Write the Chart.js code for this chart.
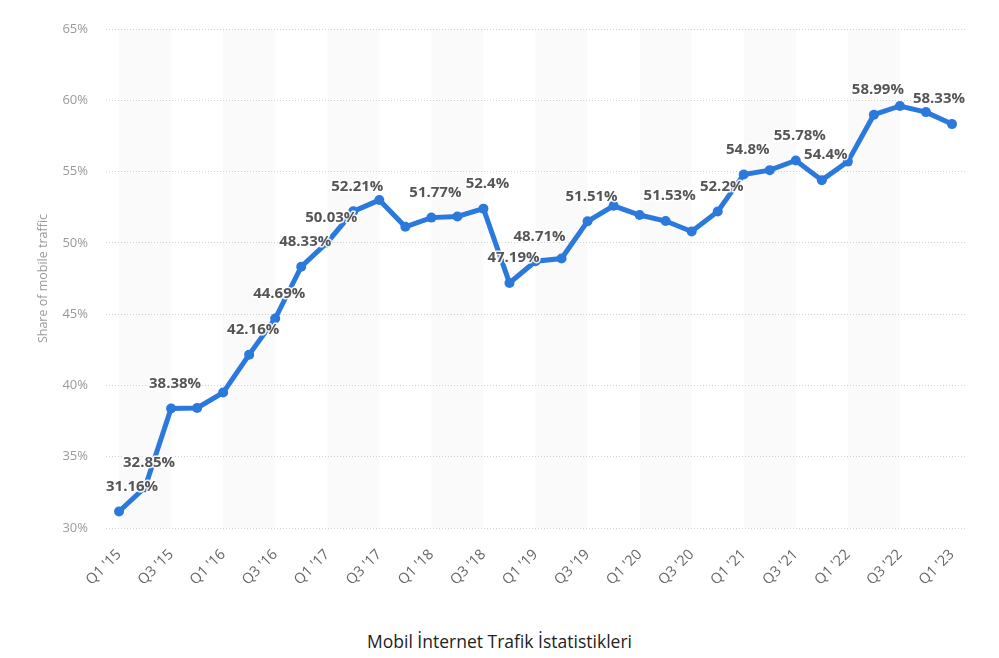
<!DOCTYPE html>
<html lang="tr">
  <head>
    <meta charset="UTF-8" />
    <title>Mobil İnternet Trafik İstatistikleri</title>
    <script src="https://cdn.jsdelivr.net/npm/chart.js"></script>
    <style>
      html, body { margin: 0; padding: 0; background: #fff; }
      #wrap { position: relative; width: 999px; height: 658px; }
      #caption {
        position: absolute; left: 0; top: 628px; width: 999px;
        text-align: center; font-family: "Open Sans", sans-serif;
        font-size: 17.5px; line-height: 26px; color: #222;
      }
    </style>
  </head>
  <body>
    <div id="wrap">
      <canvas id="trafficChart" width="999" height="620"></canvas>
      <div id="caption">Mobil İnternet Trafik İstatistikleri</div>
    </div>

    <script>
      const quarters = [
        "Q1 '15", "Q2 '15", "Q3 '15", "Q4 '15",
        "Q1 '16", "Q2 '16", "Q3 '16", "Q4 '16",
        "Q1 '17", "Q2 '17", "Q3 '17", "Q4 '17",
        "Q1 '18", "Q2 '18", "Q3 '18", "Q4 '18",
        "Q1 '19", "Q2 '19", "Q3 '19", "Q4 '19",
        "Q1 '20", "Q2 '20", "Q3 '20", "Q4 '20",
        "Q1 '21", "Q2 '21", "Q3 '21", "Q4 '21",
        "Q1 '22", "Q2 '22", "Q3 '22", "Q4 '22",
        "Q1 '23",
      ];

      // share of mobile traffic, percent
      const mobileShare = [
        31.16, 32.85, 38.38, 38.42,
        39.5, 42.16, 44.69, 48.33,
        50.03, 52.21, 53.0, 51.13,
        51.77, 51.85, 52.4, 47.19,
        48.71, 48.9, 51.51, 52.6,
        51.95, 51.53, 50.8, 52.2,
        54.8, 55.1, 55.78, 54.4,
        55.7, 58.99, 59.6, 59.17,
        58.33,
      ];

      // only some points carry a value label
      const pointLabels = [
        "31.16%", "32.85%", "38.38%", "",
        "", "42.16%", "44.69%", "48.33%",
        "50.03%", "52.21%", "", "",
        "51.77%", "", "52.4%", "47.19%",
        "48.71%", "", "51.51%", "",
        "", "51.53%", "", "52.2%",
        "54.8%", "", "55.78%", "54.4%",
        "", "58.99%", "", "",
        "58.33%",
      ];

      const lineBlue = "#2b79dc";

      // light columns from Q1 to Q3 of every year
      const yearBands = {
        id: "yearBands",
        beforeDraw(chart) {
          const { ctx, chartArea, scales } = chart;
          ctx.save();
          ctx.fillStyle = "rgba(0,0,0,0.018)";
          for (let i = 0; i + 2 < quarters.length; i += 4) {
            const x1 = scales.x.getPixelForValue(i);
            const x2 = scales.x.getPixelForValue(i + 2);
            ctx.fillRect(x1, chartArea.top, x2 - x1, chartArea.bottom - chartArea.top);
          }
          ctx.restore();
        },
      };

      const valueLabels = {
        id: "valueLabels",
        afterDatasetsDraw(chart) {
          const { ctx, chartArea } = chart;
          const meta = chart.getDatasetMeta(0);
          ctx.save();
          ctx.font = "bold 15px 'Open Sans'";
          ctx.textAlign = "center";
          ctx.textBaseline = "middle";
          ctx.lineJoin = "round";
          meta.data.forEach((pt, i) => {
            const txt = pointLabels[i];
            if (!txt) return;
            const w = ctx.measureText(txt).width;
            let x = pt.x + 4;
            if (x - w / 2 < chartArea.left) x = chartArea.left + w / 2;
            if (x + w / 2 > chartArea.right) x = chartArea.right - w / 2;
            const y = pt.y - 25;
            ctx.strokeStyle = "rgba(255,255,255,0.9)";
            ctx.lineWidth = 3;
            ctx.strokeText(txt, x, y);
            ctx.fillStyle = "#555";
            ctx.fillText(txt, x, y);
          });
          ctx.restore();
        },
      };

      const ctx = document.getElementById("trafficChart").getContext("2d");
      const chart = new Chart(ctx, {
        type: "line",
        data: {
          labels: quarters,
          datasets: [
            {
              data: mobileShare,
              borderColor: lineBlue,
              backgroundColor: lineBlue,
              borderWidth: 5,
              pointRadius: 5,
              pointHoverRadius: 5,
              pointBorderWidth: 0,
              tension: 0,
            },
          ],
        },
        options: {
          responsive: false,
          animation: false,
          layout: { padding: { left: 36, right: 34, top: 29, bottom: 18 } },
          plugins: {
            legend: { display: false },
            tooltip: { enabled: false },
          },
          scales: {
            x: {
              offset: true,
              grid: { display: false },
              border: { display: false },
              ticks: {
                autoSkip: false,
                minRotation: 45,
                maxRotation: 45,
                padding: 10,
                color: "#666",
                font: { family: "'Open Sans'", size: 14.5 },
                callback: (v, i) => (i % 2 === 0 ? quarters[i] : ""),
              },
              afterFit: (scale) => { scale.height = 74; },
            },
            y: {
              min: 30,
              max: 65,
              ticks: {
                stepSize: 5,
                padding: 18,
                color: "#999",
                font: { family: "'Open Sans'", size: 13 },
                callback: (v) => v + "%",
              },
              grid: {
                color: "#cfcfcf",
                drawTicks: false,
              },
              border: { display: false, dash: [1, 2] },
              title: {
                display: true,
                text: "Share of mobile traffic",
                color: "#999",
                font: { family: "'Open Sans'", size: 12.5 },
                padding: 0,
              },
              afterFit: (scale) => { scale.width = 70; },
            },
          },
        },
        plugins: [yearBands, valueLabels],
      });
    </script>
  </body>
</html>
